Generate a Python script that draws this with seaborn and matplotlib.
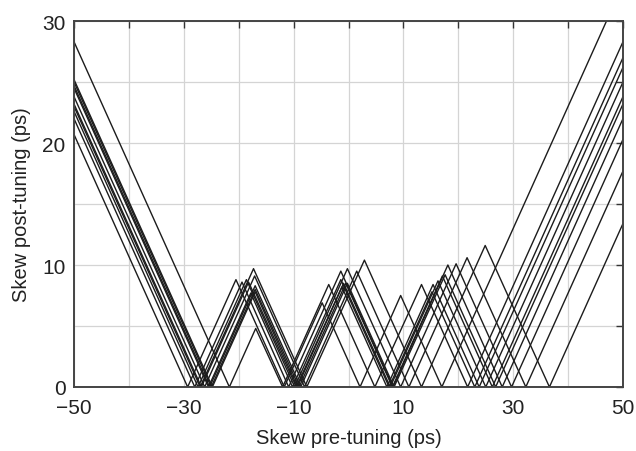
import numpy as np
import pandas as pd
import matplotlib
matplotlib.use("Agg")
import matplotlib.pyplot as plt
from matplotlib.ticker import FixedLocator
import seaborn as sns

# Vertices (x = skew pre-tuning, y = skew post-tuning) of each tuning curve
line_x = [
    [-50, -21.7, -16.9, -12.0, -3.6, 4.8, 13.3, 21.7, 50],
    [-50, -29.3, -20.5, -11.7, -4.8, 2.1, 9.5, 17.0, 50],
    [-50, -27.0, -17.3, -7.6, 2.9, 13.3, 24.9, 36.6, 50],
    [-50, -26.2, -17.1, -8.0, 1.5, 11.0, 21.6, 32.3, 50],
    [-50, -28.0, -19.4, -10.9, -1.4, 8.1, 18.1, 28.0, 50],
    [-50, -27.4, -18.6, -9.8, -0.2, 9.5, 19.6, 29.7, 50],
    [-50, -25.0, -17.0, -9.0, -0.5, 8.0, 17.1, 26.2, 50],
    [-50, -24.8, -17.0, -9.3, -0.9, 7.6, 16.3, 25.0, 50],
    [-50, -25.3, -17.0, -8.7, -0.2, 8.3, 17.6, 26.8, 50],
    [-50, -26.8, -18.2, -9.5, -1.2, 7.0, 15.4, 23.8, 50],
    [-50, -25.5, -17.8, -10.2, -1.4, 7.4, 15.2, 23.0, 50],
]
line_y = [
    [28.3, 0, 4.8, 0, 8.4, 0, 8.4, 0, 28.3],
    [20.7, 0, 8.8, 0, 6.9, 0, 7.5, 0, 33.0],
    [23.0, 0, 9.7, 0, 10.4, 0, 11.6, 0, 13.4],
    [23.8, 0, 9.1, 0, 9.5, 0, 10.6, 0, 17.7],
    [22.0, 0, 8.6, 0, 9.5, 0, 10.0, 0, 22.0],
    [22.6, 0, 8.8, 0, 9.7, 0, 10.1, 0, 20.3],
    [25.0, 0, 8.0, 0, 8.5, 0, 9.1, 0, 23.8],
    [25.2, 0, 7.8, 0, 8.5, 0, 8.7, 0, 25.0],
    [24.7, 0, 8.3, 0, 8.5, 0, 9.2, 0, 23.2],
    [23.2, 0, 8.6, 0, 8.2, 0, 8.4, 0, 26.2],
    [24.5, 0, 7.7, 0, 8.8, 0, 7.8, 0, 27.0],
]
x_tick_labels = [-50, -30, -10, 10, 30, 50]
y_tick_labels = [0, 10, 20, 30]
x_label = "Skew pre-tuning (ps)"
y_label = "Skew post-tuning (ps)"

rows = []
for i, (xs, ys) in enumerate(zip(line_x, line_y)):
    for xv, yv in zip(xs, ys):
        rows.append({"pre": xv, "post": yv, "curve": i})
df = pd.DataFrame(rows)

sns.set_theme(style="white")
plt.rcParams["font.family"] = ["Liberation Sans", "DejaVu Sans"]

fig = plt.figure(figsize=(6.36, 4.52), dpi=100)
ax = fig.add_axes([74 / 636, 1 - 388 / 452, (623 - 74) / 636, (388 - 22) / 452])

sns.lineplot(data=df, x="pre", y="post", hue="curve", units="curve", estimator=None,
             palette=["#1c1c1c"] * len(line_x), legend=False, sort=False,
             linewidth=1.0, ax=ax)

ax.set_xlim(-50, 50)
ax.set_ylim(0, 30)
ax.xaxis.set_major_locator(FixedLocator(x_tick_labels))
ax.xaxis.set_minor_locator(FixedLocator([-40, -20, 0, 20, 40]))
ax.yaxis.set_major_locator(FixedLocator(y_tick_labels))
ax.yaxis.set_minor_locator(FixedLocator([5, 15, 25]))
ax.grid(True, which="both", color="#d4d4d4", linewidth=0.9)
ax.set_axisbelow(True)
ax.tick_params(which="both", direction="in", top=True, right=True, length=5,
               width=1.0, color="#333333", labelsize=15, labelcolor="#222222")
ax.tick_params(axis="x", pad=8)
ax.tick_params(axis="y", pad=6)
for lbl in ax.get_yticklabels():
    lbl.set_verticalalignment("center_baseline")
for s in ax.spines.values():
    s.set_color("#444444")
    s.set_linewidth(1.4)
ax.set_xlabel(x_label, fontsize=14.5, color="#222222", labelpad=8)
ax.set_ylabel(y_label, fontsize=14.5, color="#222222", labelpad=8)

fig.savefig("out.png", dpi=100)
